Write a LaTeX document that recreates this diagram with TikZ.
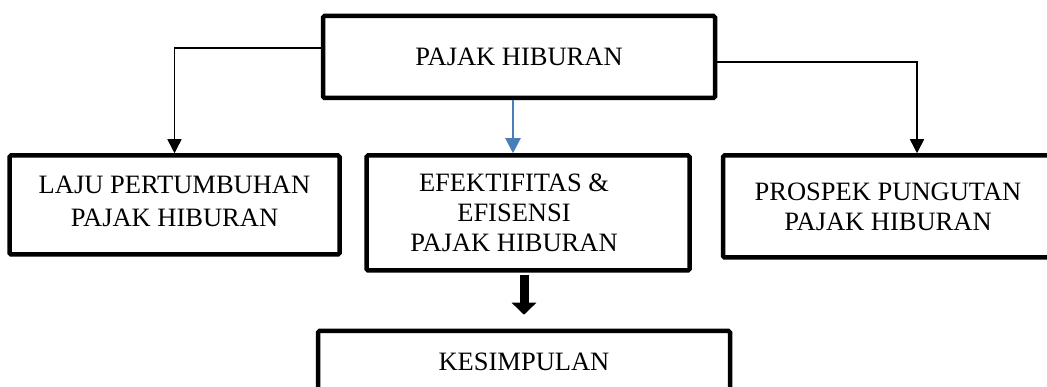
\documentclass[tikz,border=0pt]{standalone}
\usepackage{fontspec}
\setmainfont{Liberation Serif}
\usetikzlibrary{arrows.meta}
\definecolor{linkblue}{RGB}{74,126,187}
\tikzset{
  box/.style={draw=black, line width=4.5pt, rounded corners=1.5pt, inner sep=0pt, align=center},
  lbl/.style={inner sep=0pt, align=center},
  conn/.style={draw=black, line width=1.5pt, -{Triangle[length=14pt,width=14pt]}},
  blueconn/.style={draw=linkblue, line width=2pt, -{Triangle[length=15pt,width=15pt]}},
  bigarrow/.style={draw=black, line width=9pt, -{Triangle[length=12pt,width=24pt]}}
}
\begin{document}
\begin{tikzpicture}[x=1pt,y=-1pt,font=\fontsize{26.5}{30}\selectfont]
\useasboundingbox (0,0) rectangle (1047,387);
\fill[white] (0,0) rectangle (1047,387);
% boxes
\node[box, minimum width=392pt, minimum height=82pt] (top) at (519,57) {PAJAK HIBURAN};
\node[box, minimum width=330pt, minimum height=99pt] (laju) at (174.5,205) {};
\node[lbl, font=\fontsize{26.5}{33}\selectfont] (lajut) at (174.5,201) {LAJU PERTUMBUHAN\\PAJAK HIBURAN};
\node[box, minimum width=323pt, minimum height=115pt] (efek) at (528,213) {};
\node[lbl] (efekt) at (514,213) {EFEKTIFITAS \&\\EFISENSI\\PAJAK HIBURAN};
\node[box, minimum width=330pt, minimum height=102pt] (pros) at (888,206.5) {};
\node[lbl] (prost) at (888,207) {PROSPEK PUNGUTAN\\PAJAK HIBURAN};
\node[box, minimum width=412pt, minimum height=70pt] (kes) at (524,366) {};
\node[lbl] (kest) at (524,362) {KESIMPULAN};
% connectors
\draw[conn] ([yshift=9pt]top.west) -| (laju.north);
\draw[conn] ([yshift=-5pt]top.east) -| ([xshift=29pt]pros.north);
\draw[blueconn] ([xshift=-6pt]top.south) -- ([xshift=-6pt]top.south |- efek.north);
\draw[bigarrow] ([yshift=-2pt]efek.south -| kes.north) -- ([yshift=14pt]kes.north);
\end{tikzpicture}
\end{document}
